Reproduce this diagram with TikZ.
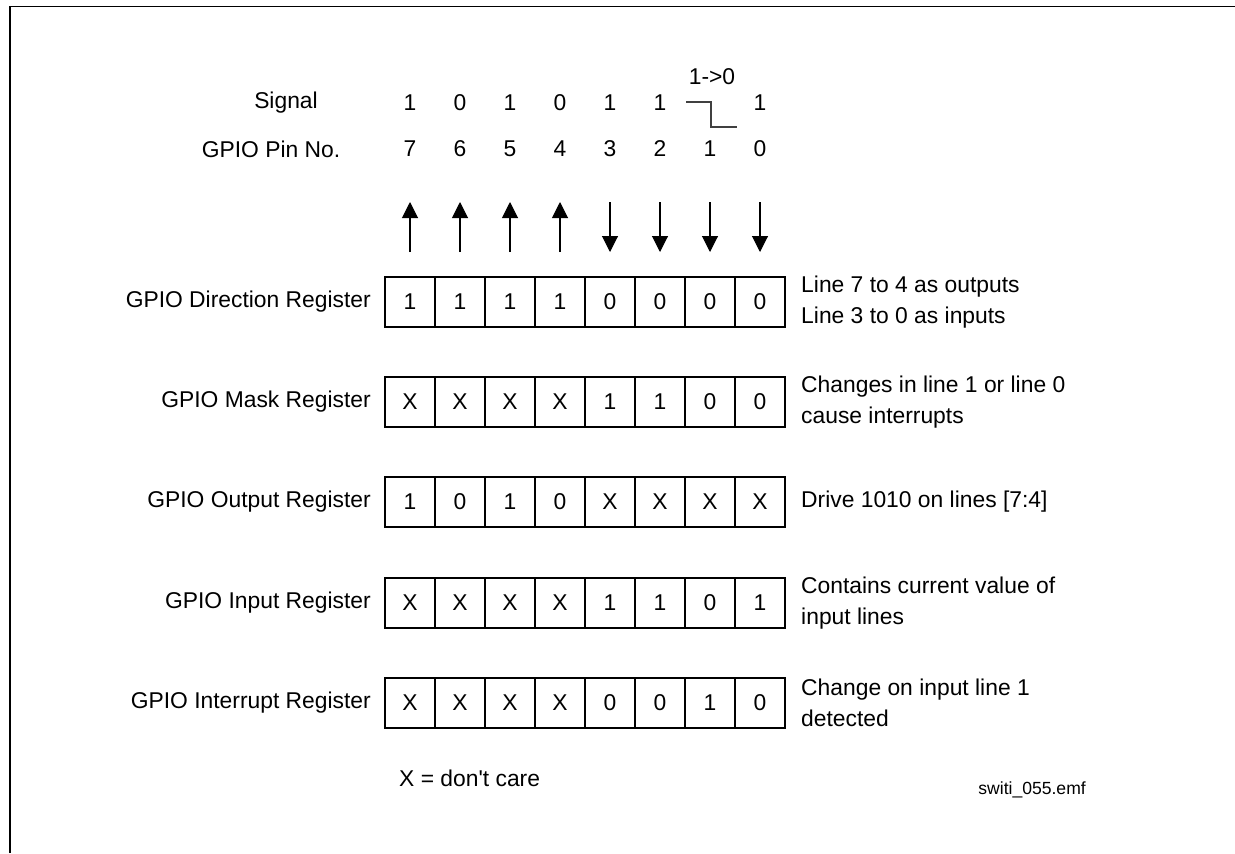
\documentclass[tikz,border=0pt]{standalone}
\usepackage{fontspec}
\setmainfont{Liberation Sans}
\usetikzlibrary{calc, positioning, arrows.meta}

\begin{document}
\begin{tikzpicture}[x=0.02cm, y=-0.02cm, >=Triangle]
    \tikzset{
        every node/.style={font=\fontsize{13}{18}\selectfont},
        cell/.style={draw, line width=0.6pt, minimum size=1cm, inner sep=0pt},
        reglabel/.style={anchor=east, xshift=-0.15cm},
        note/.style={anchor=west, xshift=0.19cm, align=left},
        pin arrow/.style={line width=0.6pt, -{Triangle[length=0.32cm, width=0.32cm]}}
    }

    \useasboundingbox (0,0) rectangle (1235,853);
    \draw[line width=0.9pt] (10,853) -- (10,6.5) -- (1235,6.5);

    % signal and pin numbers
    \node (signal) at (286,103) {Signal};
    \node (pinno) at (271,149) {GPIO Pin No.};
    \foreach \pin/\v in {7/1,6/0,5/1,4/0,3/1,2/1,0/1}
        \node (sig-\pin) at ({410+50*(7-\pin)},103) {\v};
    \foreach \pin in {0,...,7}
        \node (pin-\pin) at ({410+50*(7-\pin)},149) {\pin};

    % falling edge on line 1
    \coordinate (edge-a) at (686,102);
    \coordinate (edge-b) at (711,102);
    \coordinate (edge-c) at (711,127);
    \coordinate (edge-d) at (737,127);
    \draw[line width=0.6pt, black!75] (edge-a) -- (edge-b) -- (edge-c) -- (edge-d);
    \node (edge) at (712,77) {1->0};

    % directions
    \foreach \pin in {0,...,7} {
        \coordinate (hi-\pin) at ({410+50*(7-\pin)},202);
        \coordinate (lo-\pin) at ({410+50*(7-\pin)},252);
    }
    \foreach \pin in {7,6,5,4}
        \draw[pin arrow] (lo-\pin) -- (hi-\pin);
    \foreach \pin in {3,2,1,0}
        \draw[pin arrow] (hi-\pin) -- (lo-\pin);

    % registers
    \foreach \reg/\y/\bits in {dir/277/{1,1,1,1,0,0,0,0}, mask/377/{X,X,X,X,1,1,0,0},
                               out/477/{1,0,1,0,X,X,X,X}, inp/578/{X,X,X,X,1,1,0,1},
                               irq/678/{X,X,X,X,0,0,1,0}}
        \foreach \b [count=\c from 0] in \bits {
            \pgfmathtruncatemacro{\pin}{7-\c}
            \node[cell] (\reg-\pin) at ({410+50*\c},{\y+25}) {\b};
        }

    \node[reglabel] (dir-label) at (dir-7.west) {GPIO Direction Register};
    \node[reglabel] (mask-label) at (mask-7.west) {GPIO Mask Register};
    \node[reglabel] (out-label) at (out-7.west) {GPIO Output Register};
    \node[reglabel] (inp-label) at (inp-7.west) {GPIO Input Register};
    \node[reglabel] (irq-label) at (irq-7.west) {GPIO Interrupt Register};

    \node[note] (dir-note) at (dir-0.east) {Line 7 to 4 as outputs\\Line 3 to 0 as inputs};
    \node[note] (mask-note) at (mask-0.east) {Changes in line 1 or line 0\\cause interrupts};
    \node[note] (out-note) at (out-0.east) {Drive 1010 on lines [7:4]};
    \node[note] (inp-note) at (inp-0.east) {Contains current value of\\input lines};
    \node[note] (irq-note) at (irq-0.east) {Change on input line 1\\detected};

    \node[anchor=west] (legend) at (393,778) {X = don\textquotesingle t care};
    \node[anchor=east, font=\fontsize{10}{12}\selectfont] (file) at (1092,790) {switi\_055.emf};
\end{tikzpicture}
\end{document}
